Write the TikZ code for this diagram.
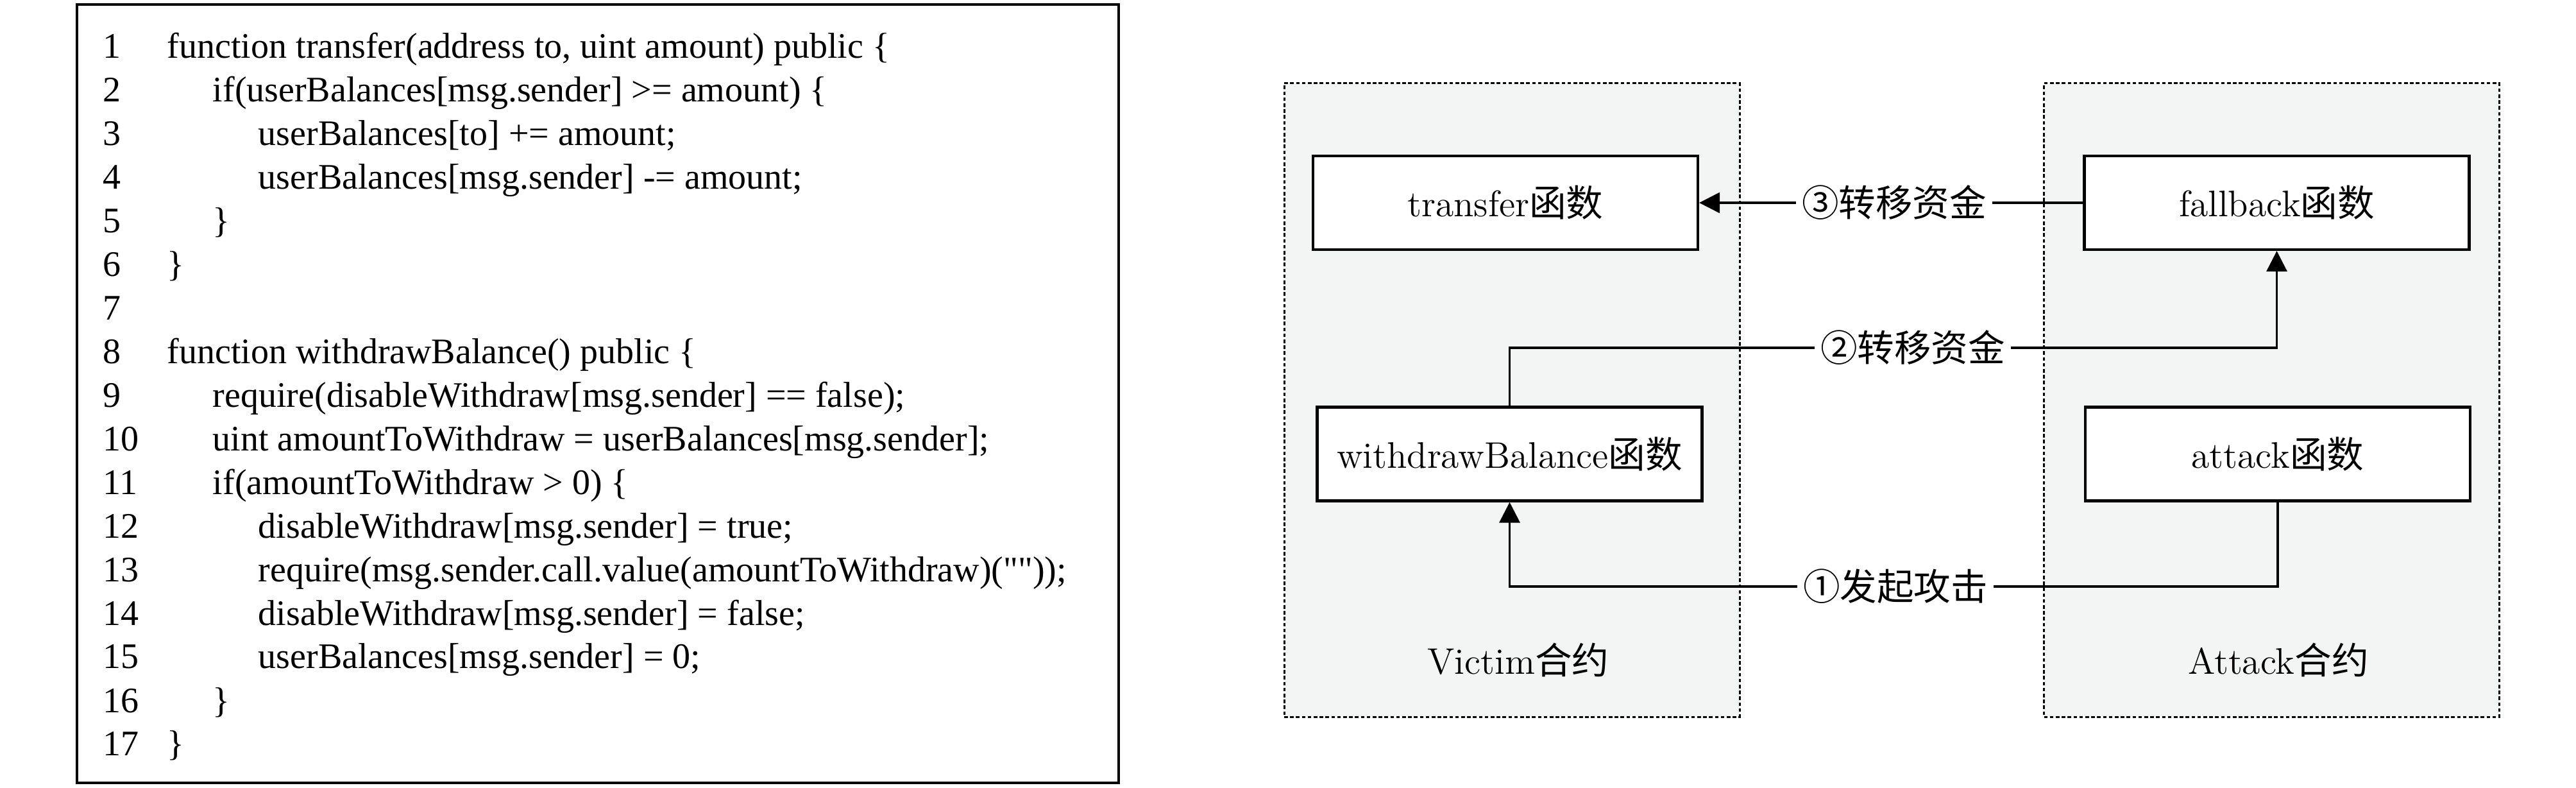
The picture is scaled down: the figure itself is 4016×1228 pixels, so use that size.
\documentclass[tikz,border=0pt]{standalone}
\usepackage{fontspec}
\usetikzlibrary{arrows.meta}
\newfontfamily\cjk{Noto Sans CJK SC}
\newfontfamily\codefont{Liberation Serif}
\definecolor{contbg}{RGB}{243,244,244}
\begin{document}
\begin{tikzpicture}[x=0.25pt,y=-0.25pt,
  num/.style={anchor=base west,inner sep=0pt,font=\codefont\fontsize{14}{16}\selectfont},
  code/.style={anchor=base west,inner sep=0pt,font=\codefont\fontsize{14}{16}\selectfont},
  container/.style={draw,fill=contbg,line width=0.75pt,dash pattern=on 1.4pt off 0.9pt,minimum width=177.5pt,minimum height=246.75pt,inner sep=0pt},
  func/.style={draw,fill=white,line width=1.05pt,minimum width=150pt,minimum height=36.5pt,inner sep=0pt,font=\fontsize{14.4}{17}\selectfont},
  lab/.style={inner sep=2pt,font=\fontsize{14.4}{17}\selectfont},
  conn/.style={line width=0.8pt},
  tip/.style={-{Triangle[length=8pt,width=8pt]}}]
\useasboundingbox (0,0) rectangle (4016,1228);
% code listing
\node[draw,line width=1.1pt,minimum width=406pt,minimum height=303.25pt,inner sep=0pt] (codebox) at (932,613.5) {};
\node[num] (n1) at (160,91) {1};
\node[num] (n2) at (160,159) {2};
\node[num] (n3) at (160,227) {3};
\node[num] (n4) at (160,295) {4};
\node[num] (n5) at (160,363) {5};
\node[num] (n6) at (160,431) {6};
\node[num] (n7) at (160,499) {7};
\node[num] (n8) at (160,567) {8};
\node[num] (n9) at (160,635) {9};
\node[num] (n10) at (160,703) {10};
\node[num] (n11) at (160,771) {11};
\node[num] (n12) at (160,839) {12};
\node[num] (n13) at (160,907) {13};
\node[num] (n14) at (160,975) {14};
\node[num] (n15) at (160,1042) {15};
\node[num] (n16) at (160,1110) {16};
\node[num] (n17) at (160,1177) {17};
\node[code] (c1) at (260,91) {function transfer(address to, uint amount) public \{};
\node[code] (c2) at (331,159) {if(userBalances[msg.sender] >= amount) \{};
\node[code] (c3) at (402,227) {userBalances[to] += amount;};
\node[code] (c4) at (402,295) {userBalances[msg.sender] -= amount;};
\node[code] (c5) at (331,363) {\}};
\node[code] (c6) at (260,431) {\}};
\node[code] (c8) at (260,567) {function withdrawBalance() public \{};
\node[code] (c9) at (331,635) {require(disableWithdraw[msg.sender] == false);};
\node[code] (c10) at (331,703) {uint amountToWithdraw = userBalances[msg.sender];};
\node[code] (c11) at (331,771) {if(amountToWithdraw > 0) \{};
\node[code] (c12) at (402,839) {disableWithdraw[msg.sender] = true;};
\node[code] (c13) at (402,907) {require(msg.sender.call.value(amountToWithdraw)(""));};
\node[code] (c14) at (402,975) {disableWithdraw[msg.sender] = false;};
\node[code] (c15) at (402,1042) {userBalances[msg.sender] = 0;};
\node[code] (c16) at (331,1110) {\}};
\node[code] (c17) at (260,1177) {\}};
% containers
\node[container] (victimc) at (2357,623.5) {};
\node[container] (attackc) at (3541.5,623.5) {};
\node[lab,anchor=base] (victiml) at (2367,1050) {Victim{\cjk 合约}};
\node[lab,anchor=base] (attackl) at (3552,1050) {Attack{\cjk 合约}};
% function boxes
\node[func] (transfer) at (2347,316) {transfer{\cjk 函数}};
\node[func] (withdraw) at (2353.5,707.5) {withdrawBalance{\cjk 函数}};
\node[func] (fallback) at (3549.5,316) {fallback{\cjk 函数}};
\node[func] (attack) at (3551,707.5) {attack{\cjk 函数}};
% labels
\node[lab] (l3) at (2953,316) {\cjk ③转移资金};
\node[lab] (l2) at (2982,542) {\cjk ②转移资金};
\node[lab] (l1) at (2955,914) {\cjk ①发起攻击};
% connectors
\draw[conn] (fallback.west) -- (l3.east);
\draw[conn,tip] (l3.west) -- (transfer.east);
\draw[conn] (withdraw.north) |- (l2.west);
\draw[conn,tip] (l2.east) -| (fallback.south);
\draw[conn] (attack.south) |- (l1.east);
\draw[conn,tip] (l1.west) -| (withdraw.south);
\end{tikzpicture}
\end{document}
